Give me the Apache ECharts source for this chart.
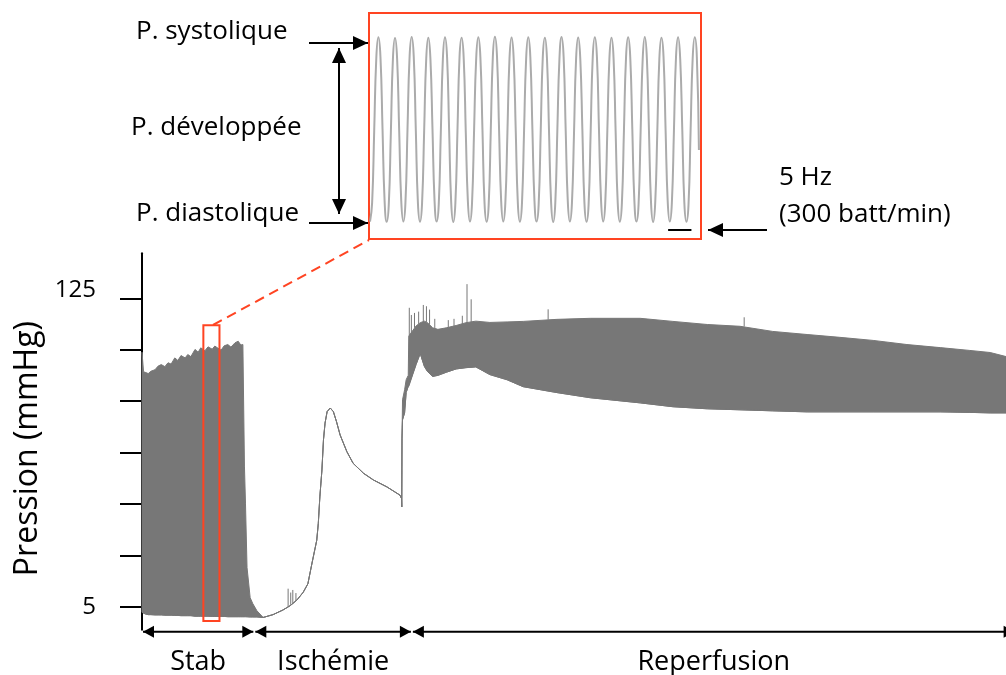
<!DOCTYPE html>
<html>
<head>
<meta charset="utf-8">
<script src="https://cdn.jsdelivr.net/npm/echarts@6.0.0/dist/echarts.min.js"></script>
<style>
html, body { margin: 0; padding: 0; background: #fff; }
#chart { width: 1006px; height: 675px; }
</style>
</head>
<body>
<div id="chart"></div>
<script>
// trace enveloppe : temps (min), pression systolique / diastolique (mmHg)
var traceTime = [
	0.0, 0.3, 0.6, 1.2, 1.7, 2.5, 3.1, 3.7, 4.4, 5.0, 5.6, 6.3, 6.9, 7.5, 8.3, 8.8, 9.4,
	10.2, 10.8, 11.3, 12.1, 12.7, 13.5, 14.0, 14.6, 15.2, 15.8, 16.5, 17.1, 17.9, 18.5, 19.0, 19.4,
	19.7, 19.9, 20.2, 20.8, 21.3, 22.1, 23.3,
	25.2, 27.1, 28.5, 29.8, 31.0, 31.9, 32.7, 33.6, 33.9, 34.2, 34.6, 34.9, 35.2, 35.6, 36.2, 36.8,
	37.4, 38.1, 39.4, 40.6, 42.6, 44.5, 47.1, 49.6, 49.9, 49.95,
	50.0, 50.1, 50.5, 50.8, 51.2, 51.3, 52.7, 53.5, 54.3, 54.9, 55.9, 56.9, 58.5, 60.4, 62.3, 64.2,
	66.9, 70.2, 73.3, 79.8, 86.2, 95.8, 102.1, 108.7, 115.0, 121.3, 127.9, 134.2, 140.6, 147.1,
	153.5, 159.2, 163.1, 166.2
];
var traceSystolic = [
	104.0, 96.4, 96.2, 95.7, 96.6, 97.2, 98.6, 99.2, 98.4, 99.9, 99.4, 101.8, 100.8, 102.7, 101.8, 103.1, 102.3,
	105.1, 104.0, 105.7, 104.6, 106.1, 105.2, 106.4, 105.6, 104.8, 106.5, 107.0, 106.0, 107.7, 108.3, 106.8, 107.0,
	59.7, 45.3, 20.2, 8.5, 6.2, 3.4, 0.8,
	1.9, 3.7, 5.4, 7.6, 10.6, 13.9, 22.0, 30.8, 37.3, 47.7, 58.2, 69.9, 76.4, 80.9, 82.3, 80.9,
	77.0, 71.8, 65.3, 60.8, 56.9, 54.3, 51.6, 48.4, 47.1, 43.8,
	70.6, 85.5, 89.4, 93.3, 95.0, 110.3, 114.2, 115.5, 116.1, 115.5, 113.5, 112.9, 113.5, 114.4, 115.5, 116.1,
	115.6, 115.8, 116.0, 116.8, 117.2, 117.2, 116.0, 114.8, 114.1, 112.1, 110.9, 109.8, 108.6, 107.0,
	105.8, 104.7, 103.9, 102.3
];
var traceDiastolic = [
	2.8, 2.5, 2.2, 1.9, 1.9, 1.8, 1.8, 1.8, 1.7, 1.7, 1.7, 1.6, 1.6, 1.5, 1.5, 1.5, 1.5,
	1.3, 1.3, 1.3, 1.3, 1.3, 1.2, 1.2, 1.2, 1.2, 1.2, 1.1, 1.1, 1.1, 1.1, 1.1, 1.1,
	1.1, 1.1, 1.1, 1.0, 1.0, 1.0, 0.8,
	1.9, 3.7, 5.4, 7.6, 10.6, 13.9, 22.0, 30.8, 37.3, 47.7, 58.2, 69.9, 76.4, 80.9, 82.3, 80.9,
	77.0, 71.8, 65.3, 60.8, 56.9, 54.3, 51.6, 48.4, 47.1, 43.8,
	70.6, 77.7, 80.4, 88.3, 90.7, 90.7, 99.2, 103.5, 98.5, 96.5, 94.6, 95.0, 96.2, 97.5, 98.0, 98.3,
	95.3, 93.3, 90.6, 88.3, 86.3, 84.3, 82.8, 82.0, 81.6, 81.2, 80.8, 80.8, 80.8, 80.8,
	80.8, 80.6, 80.4, 80.4
];

// pics isolés au-dessus de l'enveloppe
var spikeTime = [28.1, 28.6, 29.0, 29.6, 51.4, 51.8, 52.4, 53.2, 54.1, 54.7, 55.3, 56.3, 58.9, 60.0, 61.6, 62.5, 63.3, 78.1, 115.8];
var spikeBase = [5.0, 5.7, 6.3, 7.2, 110.5, 111.5, 113.5, 115.0, 116.0, 115.8, 114.8, 113.2, 113.6, 114.2, 114.9, 115.5, 115.6, 116.7, 114.0];
var spikeTop = [12.0, 10.5, 11.5, 10.3, 121.3, 118.5, 119.3, 119.8, 122.4, 121.9, 120.6, 117.0, 116.5, 117.0, 118.2, 130.5, 124.6, 120.7, 117.6];

// phases du protocole (min)
var phaseNames = ['Stab', 'Ischémie', 'Reperfusion'];
var phaseStart = [0, 21.6, 51.9];
var phaseEnd = [21.6, 51.9, 168];

// axe Y
var yTicks = [5, 25, 45, 65, 85, 105, 125];
var yLabels = [5, 125];

// fenêtre agrandie (min, mmHg)
var zoomWindow = [[11.8, 114.5], [14.9, -0.6]];

// agrandissement : un échantillon toutes les 25 ms, 5 Hz
var insetPressure = [
	1.4, 12, 53, 94, 106.0, 95, 54, 13,
	1.3, 11, 52, 94, 105.6, 94, 53, 13,
	1.5, 12, 54, 95, 106.2, 95, 53, 12,
	1.3, 12, 53, 94, 105.8, 94, 54, 13,
	1.4, 11, 52, 94, 106.1, 95, 53, 12,
	1.2, 12, 53, 95, 105.7, 94, 52, 13,
	1.4, 12, 54, 94, 106.0, 95, 54, 12,
	1.3, 11, 53, 95, 106.3, 95, 53, 13,
	1.5, 12, 52, 94, 105.9, 94, 53, 12,
	1.3, 12, 53, 94, 106.0, 95, 54, 13,
	1.4, 11, 53, 95, 105.8, 94, 52, 12,
	1.2, 12, 54, 94, 106.2, 95, 53, 13,
	1.4, 12, 52, 94, 105.9, 94, 54, 12,
	1.3, 11, 53, 95, 106.1, 95, 53, 13,
	1.5, 12, 53, 94, 105.7, 94, 52, 12,
	1.3, 12, 54, 95, 106.0, 95, 54, 13,
	1.4, 11, 53, 94, 106.2, 94, 53, 12,
	1.2, 12, 52, 94, 105.8, 95, 53, 13,
	1.4, 12, 53, 95, 106.1, 94, 54, 12,
	1.3, 11, 53, 94, 106.0, 95, 42
];
var scaleBar = [[143.2, -3.4], [154.4, -3.4]];

var FONT = '"Open Sans", "Noto Sans", sans-serif';
var GREY = '#777777';
var RED = '#ff4422';

var lowerData = traceTime.map(function (t, i) { return [t, traceDiastolic[i]]; });
var bandData = traceTime.map(function (t, i) { return [t, traceDiastolic[i], traceSystolic[i]]; });
var spikeData = spikeTime.map(function (t, i) { return [t, spikeBase[i], spikeTop[i]]; });
var phaseData = phaseNames.map(function (n, i) { return [phaseStart[i], phaseEnd[i], i]; });
var insetData = insetPressure.map(function (v, i) { return [i, v]; });

function head(tx, ty, ux, uy, len, half) {
	var bx = tx - ux * len, by = ty - uy * len;
	return [[tx, ty], [bx - uy * half, by + ux * half], [bx + uy * half, by - ux * half]];
}

function arrow(x1, y1, x2, y2, atStart, atEnd) {
	var dx = x2 - x1, dy = y2 - y1, d = Math.sqrt(dx * dx + dy * dy);
	var ux = dx / d, uy = dy / d;
	var els = [{
		type: 'line', shape: { x1: x1, y1: y1, x2: x2, y2: y2 },
		style: { stroke: '#000', lineWidth: 2 }
	}];
	if (atEnd) els.push({ type: 'polygon', shape: { points: head(x2, y2, ux, uy, 15, 7) }, style: { fill: '#000' } });
	if (atStart) els.push({ type: 'polygon', shape: { points: head(x1, y1, -ux, -uy, 15, 7) }, style: { fill: '#000' } });
	return els;
}

function label(text, x, y) {
	return { type: 'text', x: x, y: y, style: { text: text, font: '26px ' + FONT, fill: '#000', align: 'left', verticalAlign: 'middle' } };
}

var graphics = [].concat(
	[label('P. systolique', 136, 32), label('P. développée', 131, 128), label('P. diastolique', 136, 214),
	 label('5 Hz', 779, 178), label('(300 batt/min)', 779, 215)],
	arrow(309, 43, 368, 43, false, true),
	arrow(309, 223, 368, 223, false, true),
	arrow(339, 48, 339, 214, true, true),
	arrow(767, 230, 708, 230, false, true),
	[{
		type: 'line', shape: { x1: 213, y1: 325, x2: 369, y2: 240 },
		style: { stroke: RED, lineWidth: 2, lineDash: [10, 6] }
	}]
);

var chart = echarts.init(document.getElementById('chart'));
chart.setOption({
	animation: false,
	grid: [
		{ left: 142, right: 0, top: 253.3, bottom: 45.2 },
		{ left: 369, top: 13, width: 332, height: 226, show: true, borderColor: RED, borderWidth: 2, backgroundColor: 'transparent' }
	],
	xAxis: [
		{ type: 'value', min: 0, max: 166.15, show: false },
		{ type: 'value', gridIndex: 1, min: -0.5, max: 159, show: false }
	],
	yAxis: [
		{
			type: 'value', min: -4, max: 142.5, offset: 17,
			name: 'Pression (mmHg)', nameLocation: 'middle', nameGap: 79,
			nameTextStyle: { fontSize: 32, fontFamily: FONT, color: '#000', padding: [0, 14, 0, 0] },
			axisLine: { show: true, lineStyle: { color: '#000', width: 2 } },
			axisTick: { show: true, customValues: yTicks, length: 22, lineStyle: { color: '#000', width: 2 } },
			axisLabel: {
				customValues: yLabels, margin: 29,
				formatter: function (v) { return v === 125 ? '{hi|' + v + '}' : '{lo|' + v + '}'; },
				rich: {
					hi: { fontSize: 24, fontFamily: FONT, color: '#000', padding: [0, 0, 17, 0] },
					lo: { fontSize: 24, fontFamily: FONT, color: '#000' }
				}
			},
			splitLine: { show: false }
		},
		{ type: 'value', gridIndex: 1, min: -8.5, max: 119.8, show: false }
	],
	series: [
		{
			// bande systolique-diastolique remplie
			name: 'pression', type: 'custom', data: bandData, encode: { x: 0, y: [1, 2] }, z: 2,
			renderItem: function (params, api) {
				if (params.dataIndex !== 0) return null;
				var pts = [], i;
				for (i = 0; i < bandData.length; i++) pts.push(api.coord([bandData[i][0], bandData[i][2]]));
				for (i = bandData.length - 1; i >= 0; i--) pts.push(api.coord([bandData[i][0], bandData[i][1]]));
				return {
					type: 'polygon', shape: { points: pts },
					style: { fill: GREY, stroke: GREY, lineWidth: 1, lineJoin: 'round' }
				};
			}
		},
		{
			name: 'diastolique', type: 'line', data: lowerData,
			showSymbol: false, lineStyle: { color: GREY, width: 1 }, z: 2,
			markArea: {
				silent: true, z: 10,
				itemStyle: { color: 'rgba(0,0,0,0)', borderColor: RED, borderWidth: 2 },
				data: [[{ coord: zoomWindow[0] }, { coord: zoomWindow[1] }]]
			}
		},
		{
			name: 'pics', type: 'custom', data: spikeData, encode: { x: 0, y: [1, 2] }, z: 3,
			renderItem: function (params, api) {
				var a = api.coord([api.value(0), api.value(1)]);
				var b = api.coord([api.value(0), api.value(2)]);
				return { type: 'line', shape: { x1: a[0], y1: a[1], x2: b[0], y2: b[1] }, style: { stroke: GREY, lineWidth: 1 } };
			}
		},
		{
			name: 'phases', type: 'custom', data: phaseData, encode: { x: [0, 1] }, clip: false, silent: true,
			renderItem: function (params, api) {
				var cs = params.coordSys;
				var y = cs.y + cs.height + 2;
				var x1 = api.coord([api.value(0), 0])[0] + 1;
				var x2 = api.coord([api.value(1), 0])[0] - 1;
				return {
					type: 'group',
					children: [
						{ type: 'line', shape: { x1: x1, y1: y, x2: x2, y2: y }, style: { stroke: '#000', lineWidth: 2 } },
						{ type: 'polygon', shape: { points: head(x1, y, -1, 0, 11, 6) }, style: { fill: '#000' } },
						{ type: 'polygon', shape: { points: head(x2, y, 1, 0, 11, 6) }, style: { fill: '#000' } },
						{
							type: 'text', x: (x1 + x2) / 2, y: y + 31,
							style: { text: phaseNames[api.value(2)], font: '27px ' + FONT, fill: '#000', align: 'center', verticalAlign: 'middle' }
						}
					]
				};
			}
		},
		{
			name: 'agrandissement', type: 'line', xAxisIndex: 1, yAxisIndex: 1, data: insetData,
			showSymbol: false, smooth: true, lineStyle: { color: '#ababab', width: 2 },
			markLine: {
				silent: true, symbol: 'none', label: { show: false },
				lineStyle: { color: '#000', width: 2, type: 'solid' },
				data: [[{ coord: scaleBar[0] }, { coord: scaleBar[1] }]]
			}
		}
	],
	graphic: graphics
});
</script>
</body>
</html>
